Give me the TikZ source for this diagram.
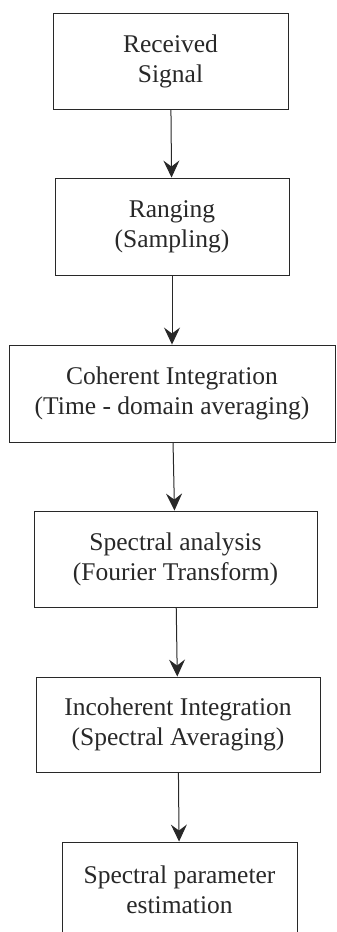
\documentclass[tikz,border=0pt]{standalone}
\usepackage{fontspec}
\setmainfont{Liberation Serif}
\usetikzlibrary{positioning}
\usetikzlibrary{arrows.meta}
\definecolor{ink}{RGB}{40,40,40}

\begin{document}
\begin{tikzpicture}[x=1pt, y=-1pt,
    stage/.style={draw=ink, line width=0.9pt, align=center, text=ink,
        inner sep=0pt, font=\fontsize{25.5}{30}\selectfont},
    flow/.style={draw=ink, line width=1pt,
        -{Stealth[length=17pt, width=16pt, inset=6pt]}}]
    \useasboundingbox (0,0) rectangle (337,932);
    \clip (0,0) rectangle (337,932);
    % processing chain
    \node[stage, minimum width=235pt, minimum height=96pt] (signal) at (170.5,61) {Received\\Signal};
    \node[stage, minimum width=234pt, minimum height=97pt] (ranging) at (172,226.5) {Ranging\\(Sampling)};
    \node[stage, minimum width=326pt, minimum height=97pt] (coherent) at (172,393.5) {Coherent Integration\\(Time - domain averaging)};
    \node[stage, minimum width=283pt, minimum height=96pt] (spectral) at (175.5,559) {Spectral analysis\\(Fourier Transform)};
    \node[stage, minimum width=284pt, minimum height=95pt] (incoherent) at (178,724.5) {Incoherent Integration\\(Spectral Averaging)};
    \node[stage, minimum width=235pt, minimum height=96pt] (estimation) at (179.5,890) {Spectral parameter\\estimation};
    % arrows
    \draw[flow] (signal) -- (ranging);
    \draw[flow] (ranging) -- (coherent);
    \draw[flow] (coherent) -- (spectral);
    \draw[flow] (spectral) -- (incoherent);
    \draw[flow] (incoherent) -- (estimation);
\end{tikzpicture}
\end{document}
